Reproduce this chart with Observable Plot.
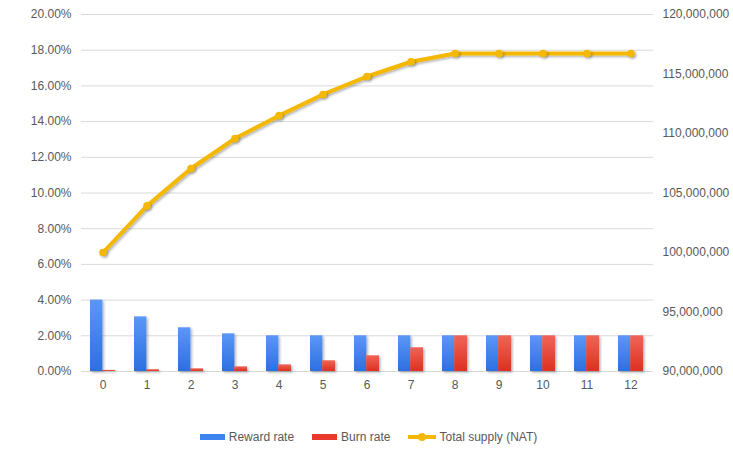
<!DOCTYPE html>
<html>
<head>
<meta charset="utf-8">
<script src="https://cdn.jsdelivr.net/npm/d3@7"></script>
<script src="https://cdn.jsdelivr.net/npm/@observablehq/plot@0.6"></script>
<style>
  html, body { margin: 0; padding: 0; background: #fff; }
  body { width: 733px; height: 454px; overflow: hidden; font-family: "Liberation Sans", Arial, sans-serif; }
  #legend { display: flex; justify-content: center; align-items: center; height: 24px; margin-top: 15px; padding-left: 4px;
            font-size: 12px; color: #595959; font-family: "Liberation Sans", Arial, sans-serif; }
  .item { display: flex; align-items: center; margin: 0 9px; }
  .sw { width: 25px; height: 6px; margin-right: 4px; }
  .ln { position: relative; width: 28px; height: 4px; background: #f5b800; margin-right: 3px; }
  .ln::after { content: ""; position: absolute; left: 10px; top: -2px; width: 8px; height: 8px; border-radius: 50%; background: #f5b800; }
</style>
</head>
<body>
<div id="chart"></div>
<div id="legend">
  <div class="item"><div class="sw" style="background:#3d84ef"></div>Reward rate</div>
  <div class="item"><div class="sw" style="background:#e8392c"></div>Burn rate</div>
  <div class="item"><div class="ln"></div>Total supply (NAT)</div>
</div>
<script>
// ---- data ----
const periods = [0, 1, 2, 3, 4, 5, 6, 7, 8, 9, 10, 11, 12];
const rewardRate = [4.00, 3.06, 2.45, 2.11, 2.00, 2.00, 2.00, 2.00, 2.00, 2.00, 2.00, 2.00, 2.00]; // %
const burnRate = [0.06, 0.10, 0.15, 0.26, 0.37, 0.60, 0.88, 1.33, 2.00, 2.00, 2.00, 2.00, 2.00];   // %
const totalSupply = [100.00, 103.92, 107.06, 109.58, 111.50, 113.28, 114.79, 116.03, 116.72, 116.72, 116.72, 116.72, 116.72]; // millions NAT
const leftTicks = [0, 2, 4, 6, 8, 10, 12, 14, 16, 18, 20]; // %
const rightTicks = [90, 95, 100, 105, 110, 115, 120];       // millions

// map right axis (supply) onto left axis (percent)
const supplyMin = 90, supplyMax = 120, pctMax = 20;
const toPct = s => (s - supplyMin) / (supplyMax - supplyMin) * pctMax;
const fromPct = p => supplyMin + p / pctMax * (supplyMax - supplyMin);

const rows = periods.map((p, i) => ({
  period: p, reward: rewardRate[i], burn: burnRate[i], supplyPct: toPct(totalSupply[i])
}));

const textColor = "#595959";
const yellow = "#f5b800";

const chart = Plot.plot({
  width: 733,
  height: 410,
  marginLeft: 81,
  marginRight: 80,
  marginTop: 14,
  marginBottom: 39,
  style: { fontFamily: "'Liberation Sans', Arial, sans-serif", fontSize: "12px", color: textColor, background: "white" },
  x: { type: "band", domain: periods, paddingInner: 0.43, paddingOuter: 0.215, axis: null },
  y: { domain: [0, pctMax], axis: null },
  marks: [
    Plot.gridY(leftTicks, { stroke: "#d9d9d9", strokeOpacity: 1, strokeWidth: 1 }),
    Plot.barY(rows, { x: "period", y: "reward", fill: "url(#gradBlue)", insetRight: 12.6 }),
    Plot.barY(rows, { x: "period", y: "burn", fill: "url(#gradRed)", insetLeft: 12.2 }),
    Plot.lineY(rows, { x: "period", y: "supplyPct", stroke: yellow, strokeWidth: 4, strokeLinejoin: "round" }),
    Plot.dot(rows, { x: "period", y: "supplyPct", r: 3.8, fill: yellow, stroke: "none" }),
    Plot.axisX({ tickSize: 0, tickPadding: 9, fontSize: 12, fill: textColor, label: null }),
    Plot.axisY(leftTicks, { anchor: "left", tickSize: 0, tickPadding: 10, fill: textColor, label: null,
      tickFormat: d => d.toFixed(2) + "%" }),
    Plot.axisY(rightTicks.map(toPct), { anchor: "right", tickSize: 0, tickPadding: 9, fill: textColor, label: null,
      tickFormat: d => d3.format(",")(Math.round(fromPct(d) * 1e6)) })
  ]
});

// gradients + soft shadow
const ns = "http://www.w3.org/2000/svg";
const defs = document.createElementNS(ns, "defs");
defs.innerHTML = `
  <linearGradient id="gradBlue" x1="0" y1="0" x2="0" y2="1">
    <stop offset="0" stop-color="#5b97f7"/><stop offset="1" stop-color="#2d6fe0"/>
  </linearGradient>
  <linearGradient id="gradRed" x1="0" y1="0" x2="0" y2="1">
    <stop offset="0" stop-color="#f06457"/><stop offset="1" stop-color="#de3020"/>
  </linearGradient>
  <filter id="shadow" x="-20%" y="-20%" width="150%" height="150%">
    <feDropShadow dx="1.5" dy="1.5" stdDeviation="1.3" flood-color="#000" flood-opacity="0.3"/>
  </filter>`;
chart.insertBefore(defs, chart.firstChild);
chart.querySelectorAll('g[aria-label="bar"], g[aria-label="line"], g[aria-label="dot"]').forEach(g => g.setAttribute("filter", "url(#shadow)"));

document.getElementById("chart").appendChild(chart);
</script>
</body>
</html>
